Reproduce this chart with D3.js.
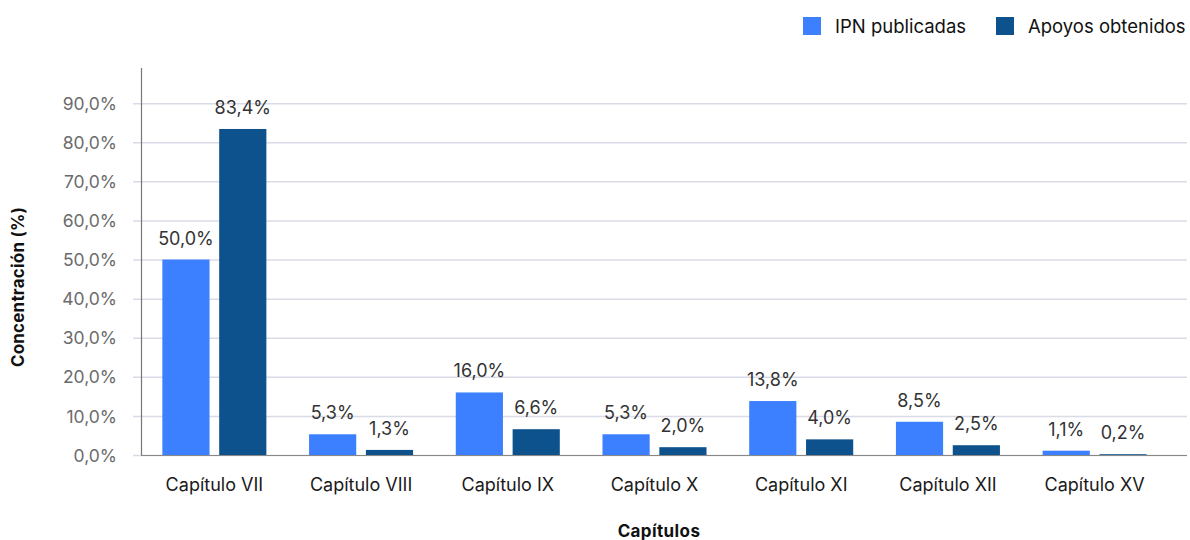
<!DOCTYPE html>
<html>
<head>
<meta charset="utf-8">
<script src="https://cdn.jsdelivr.net/npm/d3@7"></script>
<style>
  html, body { margin: 0; padding: 0; background: #fff; }
  svg { display: block; font-family: Inter, "Noto Sans", sans-serif; }
</style>
</head>
<body>
<svg id="chart" width="1190" height="540"></svg>
<script>
const categories = ["Capítulo VII", "Capítulo VIII", "Capítulo IX", "Capítulo X", "Capítulo XI", "Capítulo XII", "Capítulo XV"];
const seriesNames = ["IPN publicadas", "Apoyos obtenidos"];
const ipnPublicadas = [50.0, 5.3, 16.0, 5.3, 13.8, 8.5, 1.1];
const apoyosObtenidos = [83.4, 1.3, 6.6, 2.0, 4.0, 2.5, 0.2];
const yTicks = [0, 10, 20, 30, 40, 50, 60, 70, 80, 90];
const colors = ["#3c7fff", "#0e528d"];

(function () {
const svg = d3.select("#chart");
const mLeft = 141, mRight = 1168, gridRight = 1187, mTop = 68, mBottom = 455;

const x = d3.scaleBand().domain(categories).range([mLeft, mRight])
  .paddingInner(0.291).paddingOuter(0.1455);
const xi = d3.scaleBand().domain(seriesNames).range([0, x.bandwidth()])
  .paddingInner(0.17).paddingOuter(0);
const y = d3.scaleLinear().domain([0, 99]).range([mBottom, mTop]);

const fmt = v => d3.format(".1f")(v).replace(".", ",") + "%";

// gridlines + y tick labels
const yAxis = d3.axisLeft(y).tickValues(yTicks).tickSize(0).tickPadding(0).tickFormat(fmt);
const gy = svg.append("g").attr("transform", `translate(${mLeft},0)`).call(yAxis);
gy.select(".domain").remove();
gy.selectAll(".tick").append("line")
  .attr("x1", -8).attr("x2", gridRight - mLeft)
  .attr("stroke", "#dadbe8").attr("stroke-width", 1.5);
gy.selectAll(".tick text")
  .attr("x", -24).attr("fill", "#6b6b6b").attr("font-size", 17.5)
  .attr("font-family", "Inter, sans-serif").attr("dy", "0.35em");

// y axis line
svg.append("line").attr("x1", mLeft + 0.5).attr("x2", mLeft + 0.5)
  .attr("y1", mTop).attr("y2", mBottom).attr("stroke", "#777").attr("stroke-width", 1.2);

// bars
const rows = categories.map((c, i) => ({cat: c, vals: [ipnPublicadas[i], apoyosObtenidos[i]]}));
const groups = svg.append("g").selectAll("g").data(rows).join("g")
  .attr("transform", d => `translate(${x(d.cat)},0)`);
groups.selectAll("rect").data(d => d.vals.map((v, k) => ({v, k})))
  .join("rect")
  .attr("x", d => xi(seriesNames[d.k]))
  .attr("width", xi.bandwidth())
  .attr("y", d => y(d.v))
  .attr("height", d => mBottom - y(d.v))
  .attr("fill", d => colors[d.k]);
groups.selectAll("text").data(d => d.vals.map((v, k) => ({v, k})))
  .join("text")
  .attr("x", d => xi(seriesNames[d.k]) + xi.bandwidth() / 2)
  .attr("y", d => y(d.v) - 15)
  .attr("text-anchor", "middle")
  .attr("font-size", 18).attr("fill", "#333")
  .text(d => fmt(d.v));

// x axis
const xAxis = d3.axisBottom(x).tickSize(0).tickPadding(0);
const gx = svg.append("g").attr("transform", `translate(0,${mBottom})`).call(xAxis);
gx.select(".domain").remove();
gx.selectAll(".tick text").attr("y", 36).attr("dy", 0)
  .attr("font-size", 18).attr("fill", "#1a1a1a").attr("font-family", "Inter, sans-serif");
svg.append("line").attr("x1", mLeft).attr("x2", gridRight)
  .attr("y1", mBottom + 0.5).attr("y2", mBottom + 0.5).attr("stroke", "#888").attr("stroke-width", 1.2);

// axis titles
svg.append("text").attr("x", 659).attr("y", 537).attr("text-anchor", "middle")
  .attr("font-size", 17).attr("font-weight", 700).attr("letter-spacing", 0.4)
  .attr("fill", "#111").text("Capítulos");
svg.append("text").attr("transform", "translate(24,287) rotate(-90)")
  .attr("text-anchor", "middle").attr("font-size", 17).attr("font-weight", 700)
  .attr("letter-spacing", 0.2).attr("fill", "#111").text("Concentración (%)");

// legend
const legendX = [803, 996];
const lg = svg.append("g").selectAll("g").data(seriesNames).join("g")
  .attr("transform", (d, i) => `translate(${legendX[i]},17)`);
lg.append("rect").attr("width", 18).attr("height", 18).attr("fill", (d, i) => colors[i]);
lg.append("text").attr("x", 32).attr("y", 15.5).attr("font-size", 18.5)
  .attr("fill", "#111").text(d => d);
})();
</script>
</body>
</html>
